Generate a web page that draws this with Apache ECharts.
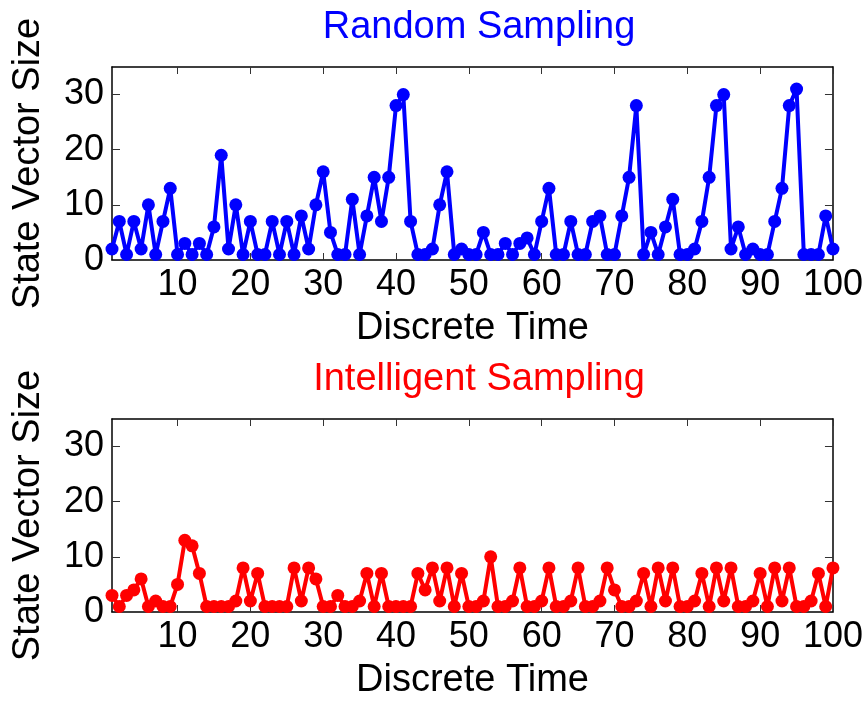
<!DOCTYPE html>
<html>
<head>
<meta charset="utf-8">
<script src="https://cdn.jsdelivr.net/npm/echarts@6/dist/echarts.min.js"></script>
<style>
html,body{margin:0;padding:0;background:#fff;}
#c{width:866px;height:704px;}
</style>
</head>
<body>
<div id="c"></div>
<script>
var randomValues = [2,7,1,7,2,10,1,7,13,1, 3,1,3,1,6,19,2,10,1,7, 1,1,7,1,7,1,8,2,10,16, 5,1,1,11,1,8,15,7,15,28, 30,7,1,1,2,10,16,1,2,1, 1,5,1,1,3,1,3,4,1,7, 13,1,1,7,1,1,7,8,1,1, 8,15,28,1,5,1,6,11,1,1, 2,7,15,28,30,2,6,1,2,1, 1,7,13,28,31,1,1,1,8,2];
var intelligentValues = [3,1,3,4,6,1,2,1,1,5, 13,12,7,1,1,1,1,2,8,2, 7,1,1,1,1,8,2,8,6,1, 1,3,1,1,2,7,1,7,1,1, 1,1,7,4,8,2,8,1,7,1, 1,2,10,1,1,2,8,1,1,2, 8,1,1,2,8,1,1,2,8,4, 1,1,2,7,1,8,2,8,1,1, 2,7,1,8,2,8,1,1,2,7, 1,8,2,8,1,1,2,7,1,8];
var xTicks = [10,20,30,40,50,60,70,80,90,100];
var yTicks = [0,10,20,30];
var titles = ['Random Sampling','Intelligent Sampling'];
var xName = 'Discrete Time';
var yName = 'State Vector Size';

function pairs(vals){ var out=[]; for(var i=0;i<vals.length;i++){ out.push([i+1, vals[i]]); } return out; }

var FONT = 'Liberation Sans, Arial, sans-serif';
var chart = echarts.init(document.getElementById('c'), null, {renderer:'canvas'});
var grids = [
  {left:112, width:724, top:67, height:193},
  {left:112, width:724, top:419, height:193}
];
var xAxes=[], yAxes=[];
for (var g=0; g<2; g++){
  xAxes.push({
    type:'value', gridIndex:g, min:1, max:100, position:'bottom',
    name:xName, nameLocation:'middle', nameGap:50,
    nameTextStyle:{fontFamily:FONT, fontSize:38, color:'#000'},
    axisLine:{show:true, onZero:false, lineStyle:{color:'#000', width:1.5}},
    axisTick:{show:true, inside:true, length:7, customValues:xTicks, lineStyle:{color:'#333', width:1}},
    axisLabel:{show:true, margin:7, customValues:xTicks, fontFamily:FONT, fontSize:36, color:'#000'},
    splitLine:{show:false}
  });
  xAxes.push({
    type:'value', gridIndex:g, min:1, max:100, position:'top',
    axisLine:{show:true, onZero:false, lineStyle:{color:'#000', width:1.5}},
    axisTick:{show:true, inside:true, length:7, customValues:xTicks, lineStyle:{color:'#333', width:1}},
    axisLabel:{show:false}, splitLine:{show:false}
  });
  yAxes.push({
    type:'value', gridIndex:g, min:0, max:35, position:'left',
    name:yName, nameLocation:'middle', nameGap:64, nameRotate:90,
    nameTextStyle:{fontFamily:FONT, fontSize:38, color:'#000'},
    axisLine:{show:true, onZero:false, lineStyle:{color:'#000', width:1.5}},
    axisTick:{show:true, inside:true, length:8, customValues:yTicks, lineStyle:{color:'#333', width:1}},
    axisLabel:{show:true, margin:8, customValues:yTicks, fontFamily:FONT, fontSize:36, color:'#000'},
    splitLine:{show:false}
  });
  yAxes.push({
    type:'value', gridIndex:g, min:0, max:35, position:'right',
    axisLine:{show:true, onZero:false, lineStyle:{color:'#000', width:1.5}},
    axisTick:{show:true, inside:true, length:8, customValues:yTicks, lineStyle:{color:'#333', width:1}},
    axisLabel:{show:false}, splitLine:{show:false}
  });
}
var option = {
  animation:false,
  backgroundColor:'#fff',
  title:[
    {text:titles[0], left:474, top:4, textAlign:'center', textStyle:{fontFamily:FONT, fontSize:38, fontWeight:'normal', color:'#0000ff'}},
    {text:titles[1], left:474, top:356, textAlign:'center', textStyle:{fontFamily:FONT, fontSize:38, fontWeight:'normal', color:'#ff0000'}}
  ],
  grid:grids,
  xAxis:xAxes,
  yAxis:yAxes,
  series:[
    {type:'line', xAxisIndex:0, yAxisIndex:0, data:pairs(randomValues), symbol:'circle', symbolSize:13,
     lineStyle:{color:'#0000ff', width:4}, itemStyle:{color:'#0000ff'}},
    {type:'line', xAxisIndex:2, yAxisIndex:2, data:pairs(intelligentValues), symbol:'circle', symbolSize:13,
     lineStyle:{color:'#ff0000', width:4}, itemStyle:{color:'#ff0000'}}
  ]
};
chart.setOption(option);
</script>
</body>
</html>
